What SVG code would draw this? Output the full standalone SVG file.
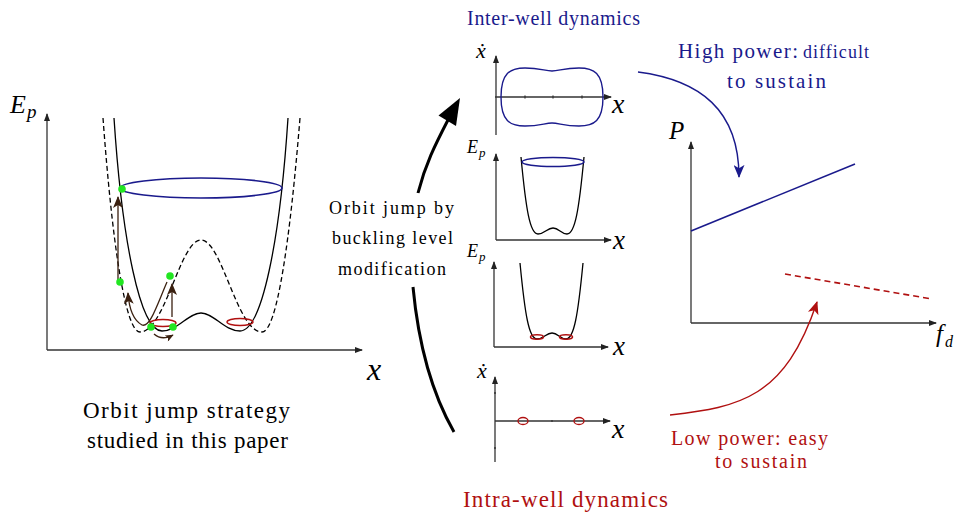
<svg xmlns="http://www.w3.org/2000/svg" width="958" height="515" viewBox="0 0 958 515">
<style>
  .axis { stroke: #333; stroke-width: 1.3; fill: none; }
  .pot { stroke: #000; stroke-width: 1.3; fill: none; }
  .dash { stroke: #000; stroke-width: 1.3; fill: none; stroke-dasharray: 5 3; }
  .blue { stroke: #1a1a8c; fill: none; }
  .red { stroke: #b01010; fill: none; }
  .brown { stroke: #3a2010; stroke-width: 1.3; fill: none; }
  .dot { fill: #22e622; }
  .btxt { fill: #1a1a8c; }
  .rtxt { fill: #b01010; }
  .it { font-style: italic; }
</style>
<defs>
  <marker id="ax" viewBox="0 0 8 6" refX="7" refY="3" markerWidth="8" markerHeight="6" markerUnits="userSpaceOnUse" orient="auto">
    <path d="M0,0 L8,3 L0,6 z" fill="#222"/>
  </marker>
  <marker id="brn" viewBox="0 0 12 10" refX="11" refY="5" markerWidth="12" markerHeight="10" markerUnits="userSpaceOnUse" orient="auto">
    <path d="M0,0 L12,5 L0,10 L3,5 z" fill="#3a2010"/>
  </marker>
  <marker id="brns" viewBox="0 0 12 10" refX="11" refY="5" markerWidth="9" markerHeight="7" markerUnits="userSpaceOnUse" orient="auto">
    <path d="M0,0 L12,5 L0,10 L3,5 z" fill="#3a2010"/>
  </marker>
  <marker id="blu" viewBox="0 0 12 10" refX="11" refY="5" markerWidth="14" markerHeight="11" markerUnits="userSpaceOnUse" orient="auto">
    <path d="M0,0 L12,5 L0,10 L3,5 z" fill="#1a1a8c"/>
  </marker>
  <marker id="rd" viewBox="0 0 12 10" refX="11" refY="5" markerWidth="14" markerHeight="11" markerUnits="userSpaceOnUse" orient="auto">
    <path d="M0,0 L12,5 L0,10 L3,5 z" fill="#b01010"/>
  </marker>
</defs>
<rect width="958" height="515" fill="#fff"/>

<g font-family="Liberation Serif, DejaVu Serif, serif">
<!-- Left panel: potential plot -->
<g id="left-potential">
  <line class="axis" x1="47" y1="350" x2="47" y2="114" marker-end="url(#ax)"/>
  <line class="axis" x1="47" y1="350" x2="362" y2="350" marker-end="url(#ax)"/>
  <text class="it" x="10" y="113" font-size="26">E</text>
  <text class="it" x="27" y="118" font-size="19">p</text>
  <text class="it" x="367" y="380" font-size="32">x</text>
  <path class="dash" d="M103,118 C112,240 125,332 140,332 C165,332 180,240 201,240 C222,240 237,332 262,332 C277,332 290,240 300,118"/>
  <path class="pot" d="M114,118 C122,240 140,331 162,331 C178,331 188,313 201,313 C214,313 224,331 240,331 C262,331 280,240 288,118"/>
  <ellipse class="blue" stroke-width="1.6" cx="201" cy="188" rx="81" ry="10"/>
  <ellipse class="red" stroke-width="1.4" cx="163" cy="323" rx="13" ry="3.5"/>
  <ellipse class="red" stroke-width="1.4" cx="240" cy="322" rx="13" ry="3.5"/>
  <line class="brown" x1="118" y1="281" x2="118" y2="197" marker-end="url(#brn)"/>
  <line class="brown" x1="172" y1="317" x2="172" y2="284" marker-end="url(#brn)"/>
  <path class="brown" d="M167,282 C157,305 150,328 142,325 C133,320 129,308 128,293" marker-end="url(#brn)"/>
  <path class="brown" d="M154,334 Q162,341 173,335" marker-end="url(#brns)"/>
  <circle class="dot" cx="122" cy="189" r="3.8"/>
  <circle class="dot" cx="120" cy="282" r="3.8"/>
  <circle class="dot" cx="170" cy="276" r="3.8"/>
  <circle class="dot" cx="151" cy="327" r="3.8"/>
  <circle class="dot" cx="173" cy="327" r="3.8"/>
  <text x="83" y="418" font-size="23" textLength="207" lengthAdjust="spacing">Orbit jump strategy</text>
  <text x="87" y="448" font-size="23" textLength="201" lengthAdjust="spacing">studied in this paper</text>
</g>

<!-- Middle label -->
<g id="orbit-jump-label">
  <text x="329" y="214" font-size="18" textLength="125" lengthAdjust="spacing">Orbit jump by</text>
  <text x="332" y="244" font-size="18" textLength="121" lengthAdjust="spacing">buckling level</text>
  <text x="338" y="275" font-size="18" textLength="108" lengthAdjust="spacing">modification</text>
</g>

<!-- Inter-well phase portrait -->
<g id="inter-well-phase">
  <text class="btxt" x="467" y="25" font-size="20" textLength="173" lengthAdjust="spacing">Inter-well dynamics</text>
  <line class="axis" x1="496" y1="135" x2="496" y2="56" marker-end="url(#ax)"/>
  <line class="axis" x1="495" y1="97" x2="611" y2="97" marker-end="url(#ax)"/>
  <line class="axis" stroke-width="1" x1="525" y1="95.5" x2="525" y2="98.5"/>
  <line class="axis" stroke-width="1" x1="553" y1="95.5" x2="553" y2="98.5"/>
  <line class="axis" stroke-width="1" x1="582" y1="95.5" x2="582" y2="98.5"/>
  <text class="it" x="476" y="58" font-size="22">ẋ</text>
  <text class="it" x="612" y="113" font-size="28">x</text>
  <path class="blue" stroke-width="1.4" d="M501,97 C501,73 510,68 525,68 C540,68 545,71 552,71 C559,71 564,68 579,68 C594,68 603,73 603,97 C603,121 594,126 579,126 C564,126 559,123 552,123 C545,123 540,126 525,126 C510,126 501,121 501,97 z"/>
</g>

<!-- High-energy potential -->
<g id="high-potential">
  <line class="axis" stroke-width="1.1" x1="496" y1="240" x2="496" y2="154" marker-end="url(#ax)"/>
  <line class="axis" stroke-width="1.1" x1="496" y1="240" x2="611" y2="240" marker-end="url(#ax)"/>
  <text class="it" x="467" y="153" font-size="18">E</text>
  <text class="it" x="479" y="157" font-size="13">p</text>
  <text class="it" x="613" y="249" font-size="27">x</text>
  <path class="pot" stroke-width="1.1" d="M521,157 C526,210 530,234 538,234 C545,234 547,228 553,228 C559,228 561,234 567,234 C575,234 579,210 584,157"/>
  <ellipse class="blue" stroke-width="1.5" cx="553" cy="162" rx="31" ry="4.5"/>
</g>

<!-- Low-energy potential -->
<g id="low-potential">
  <line class="axis" stroke-width="1.1" x1="494" y1="347" x2="494" y2="262" marker-end="url(#ax)"/>
  <line class="axis" stroke-width="1.1" x1="494" y1="347" x2="608" y2="347" marker-end="url(#ax)"/>
  <text class="it" x="467" y="257" font-size="18">E</text>
  <text class="it" x="479" y="261" font-size="13">p</text>
  <text class="it" x="613" y="355" font-size="27">x</text>
  <path class="pot" stroke-width="1.1" d="M520,263 C525,315 529,339 537,339 C544,339 546,333 552,333 C558,333 560,339 566,339 C574,339 578,315 583,263"/>
  <ellipse class="red" stroke-width="1.6" cx="537" cy="337" rx="6.5" ry="2.2"/>
  <ellipse class="red" stroke-width="1.6" cx="566" cy="337" rx="6.5" ry="2.2"/>
</g>

<!-- Intra-well phase portrait -->
<g id="intra-well-phase">
  <line class="axis" x1="495" y1="462" x2="495" y2="377" marker-end="url(#ax)"/>
  <line class="axis" x1="495" y1="421" x2="610" y2="421" marker-end="url(#ax)"/>
  <line class="axis" stroke-width="1" x1="552" y1="420" x2="552" y2="422"/>
  <line class="axis" stroke-width="1" x1="494" y1="393" x2="496" y2="393"/>
  <line class="axis" stroke-width="1" x1="494" y1="448" x2="496" y2="448"/>
  <text class="it" x="477" y="378" font-size="22">ẋ</text>
  <text class="it" x="612" y="438" font-size="28">x</text>
  <ellipse class="red" stroke-width="1.3" cx="523" cy="421" rx="5" ry="3.5"/>
  <ellipse class="red" stroke-width="1.3" cx="579" cy="421" rx="5" ry="3.5"/>
  <text class="rtxt" x="463" y="507" font-size="23" textLength="205" lengthAdjust="spacing">Intra-well dynamics</text>
</g>

<!-- Power plot -->
<g id="power-plot">
  <line class="axis" x1="691" y1="323" x2="691" y2="142" marker-end="url(#ax)"/>
  <line class="axis" x1="691" y1="323" x2="936" y2="323" marker-end="url(#ax)"/>
  <text class="it" x="669" y="139" font-size="25">P</text>
  <text class="it" x="936" y="342" font-size="25">f</text>
  <text class="it" x="945" y="347" font-size="16">d</text>
  <line class="blue" stroke-width="1.6" x1="691" y1="231" x2="855" y2="164"/>
  <line class="red" stroke-width="1.6" stroke-dasharray="6 4" x1="785" y1="274" x2="932" y2="299"/>
</g>

<g id="high-power-label">
  <text class="btxt" x="678" y="58" font-size="21" textLength="120" lengthAdjust="spacing">High power:</text>
  <text class="btxt" x="803" y="58" font-size="18" textLength="66" lengthAdjust="spacing">difficult</text>
  <text class="btxt" x="727" y="88" font-size="21" textLength="99" lengthAdjust="spacing">to sustain</text>
</g>

<g id="low-power-label">
  <text class="rtxt" x="671" y="445" font-size="20" textLength="157" lengthAdjust="spacing">Low power: easy</text>
  <text class="rtxt" x="715" y="468" font-size="20" textLength="92" lengthAdjust="spacing">to sustain</text>
</g>
</g>

<!-- Connectors -->
<g id="connectors">
  <path d="M418,193 C425,165 435,145 449,118" stroke="#000" stroke-width="3" fill="none"/>
  <polygon points="460,98 456,126 438.5,115.5" fill="#000"/>
  <path d="M413,287 C418,340 430,390 454,432" stroke="#000" stroke-width="3" fill="none"/>
  <path class="blue" stroke-width="1.4" d="M638,72 C700,80 739,110 739,177" marker-end="url(#blu)"/>
  <path class="red" stroke-width="1.4" d="M670,415 C740,407 785,398 817,302" marker-end="url(#rd)"/>
</g>
</svg>
